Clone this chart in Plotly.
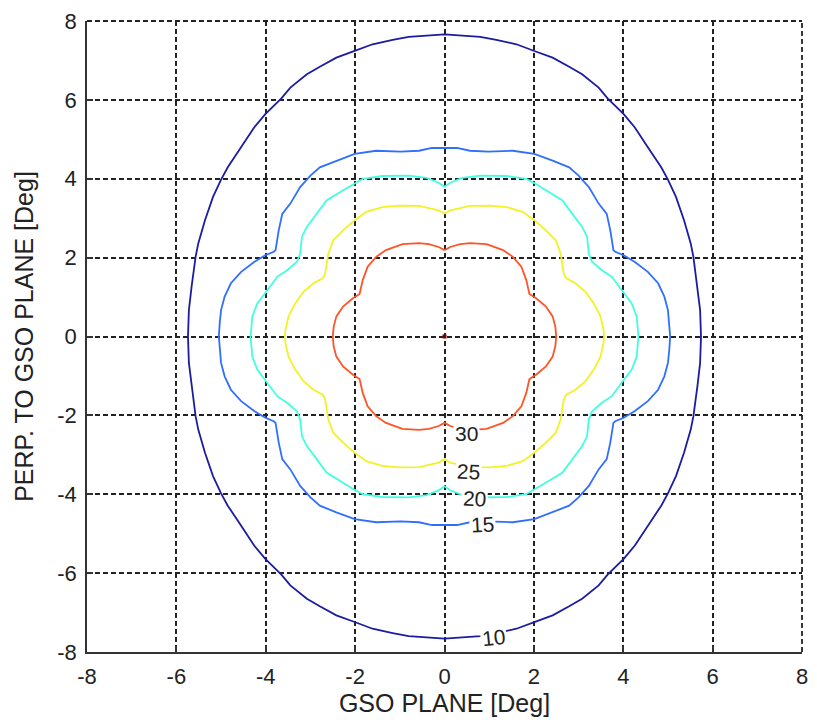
import plotly.graph_objects as go

# ---- data (first quadrant of each symmetric contour) ----
levels = [10, 15, 20, 25, 30]
level_colors = ["#1c1ca0", "#2f6fff", "#40ffe0", "#f2f224", "#ff5426"]

lvl10_x = [0, 0.80, 1.16, 1.61, 2.01, 2.42, 2.79, 3.08, 3.45, 3.65, 4.01, 4.26, 4.55, 4.85, 5.00, 5.18, 5.36, 5.51, 5.57, 5.66, 5.72, 5.74]
lvl10_y = [7.66, 7.60, 7.52, 7.41, 7.24, 7.07, 6.84, 6.65, 6.31, 6.04, 5.64, 5.30, 4.80, 4.29, 3.98, 3.54, 2.95, 2.36, 2.02, 1.26, 0.67, 0]

lvl15_x = [0, 0.28, 0.57, 0.98, 1.53, 2.01, 2.42, 2.79, 3.00, 3.23, 3.45, 3.63, 3.71, 3.78, 3.82, 4.01, 4.26, 4.55, 4.78, 4.92, 5.00, 5.03, 5.05]
lvl15_y = [4.78, 4.78, 4.71, 4.69, 4.71, 4.63, 4.46, 4.29, 4.08, 3.79, 3.37, 3.11, 2.69, 2.19, 2.15, 2.06, 1.89, 1.64, 1.35, 1.01, 0.67, 0.34, 0]

lvl20_x = [0, 0.13, 0.40, 0.80, 1.39, 1.83, 2.01, 2.34, 2.64, 2.86, 3.08, 3.19, 3.23, 3.30, 3.52, 3.74, 3.96, 4.19, 4.30, 4.34]
lvl20_y = [3.80, 3.90, 4.02, 4.08, 4.07, 4.00, 3.89, 3.66, 3.45, 3.11, 2.78, 2.53, 2.10, 1.90, 1.68, 1.52, 1.18, 0.84, 0.51, 0]

lvl25_x = [0, 0.13, 0.57, 1.02, 1.39, 1.75, 2.01, 2.27, 2.49, 2.60, 2.67, 2.72, 2.93, 3.15, 3.34, 3.49, 3.56, 3.57]
lvl25_y = [3.11, 3.20, 3.31, 3.32, 3.28, 3.16, 2.95, 2.69, 2.44, 2.10, 1.60, 1.48, 1.35, 1.14, 0.84, 0.51, 0.17, 0]

lvl30_x = [0, 0.13, 0.35, 0.57, 0.94, 1.31, 1.53, 1.72, 1.83, 1.90, 2.05, 2.27, 2.42, 2.48, 2.50]
lvl30_y = [2.19, 2.27, 2.34, 2.37, 2.34, 2.19, 2.02, 1.77, 1.43, 1.08, 0.97, 0.76, 0.51, 0.25, 0]

peak_x = [0]
peak_y = [0]

label_text = ["10", "15", "20", "25", "30"]
label_x = [1.10, 0.85, 0.67, 0.54, 0.49]
label_y = [-7.62, -4.77, -4.11, -3.42, -2.47]
label_angle = [-6, -3, 3, 3, 0]

tick_vals = [-8, -6, -4, -2, 0, 2, 4, 6, 8]
x_title = "GSO PLANE [Deg]"
y_title = "PERP. TO GSO PLANE [Deg]"


def full_contour(qx, qy):
    """Build closed contour from first-quadrant points using the picture's symmetry."""
    xs, ys = list(qx), list(qy)
    xs += list(qx[::-1])[1:]
    ys += [-v for v in qy[::-1]][1:]
    xs += [-v for v in qx][1:]
    ys += [-v for v in qy][1:]
    xs += [-v for v in qx[::-1]][1:]
    ys += list(qy[::-1])[1:]
    return xs, ys


quads = [(lvl10_x, lvl10_y), (lvl15_x, lvl15_y), (lvl20_x, lvl20_y),
         (lvl25_x, lvl25_y), (lvl30_x, lvl30_y)]

fig = go.Figure()
for (qx, qy), col in zip(quads, level_colors):
    cx, cy = full_contour(qx, qy)
    fig.add_trace(go.Scatter(x=cx, y=cy, mode="lines",
                             line=dict(color=col, width=1.8),
                             hoverinfo="skip", showlegend=False))

fig.add_trace(go.Scatter(x=peak_x, y=peak_y, mode="markers",
                         marker=dict(color="#800000", size=4, symbol="square"),
                         hoverinfo="skip", showlegend=False))

for t, lx, ly, ang in zip(label_text, label_x, label_y, label_angle):
    fig.add_annotation(x=lx, y=ly, text=t, showarrow=False, textangle=ang,
                       font=dict(family="Liberation Sans, Arial", size=21, color="#222"),
                       bgcolor="white", borderpad=1)

grid_col = "#222"
grid_w = 1.8
grid_dash = "5px,3px"

# top and right frame edges are drawn as dashed grid lines in the reference
fig.add_shape(type="line", xref="paper", yref="paper", x0=0, x1=1, y0=1, y1=1,
              line=dict(color=grid_col, width=grid_w, dash=grid_dash), layer="below")
fig.add_shape(type="line", xref="paper", yref="paper", x0=1, x1=1, y0=0, y1=1,
              line=dict(color=grid_col, width=grid_w, dash=grid_dash), layer="below")

font_fam = "Liberation Sans, Arial, sans-serif"
axis_common = dict(
    range=[-8, 8], tickmode="array", tickvals=tick_vals,
    ticktext=[str(v) for v in tick_vals],
    showgrid=True, gridcolor=grid_col, gridwidth=grid_w, griddash=grid_dash,
    zeroline=False, showline=True, linecolor="#333", linewidth=1.8,
    mirror=False, ticks="inside", ticklen=6, tickcolor="#333", tickwidth=1.5,
    tickfont=dict(family=font_fam, size=22, color="#222"),
)

fig.update_layout(
    width=817, height=726,
    margin=dict(l=87, r=9, t=17, b=74),
    paper_bgcolor="white", plot_bgcolor="white",
    xaxis=dict(**axis_common,
               title=dict(text=x_title, font=dict(family=font_fam, size=25, color="#222"), standoff=6),
               ticklabelstandoff=4),
    yaxis=dict(**axis_common,
               title=dict(text=y_title, font=dict(family=font_fam, size=25, color="#222"), standoff=16),
               ticklabelstandoff=4),
)

fig.write_html("out.html")
